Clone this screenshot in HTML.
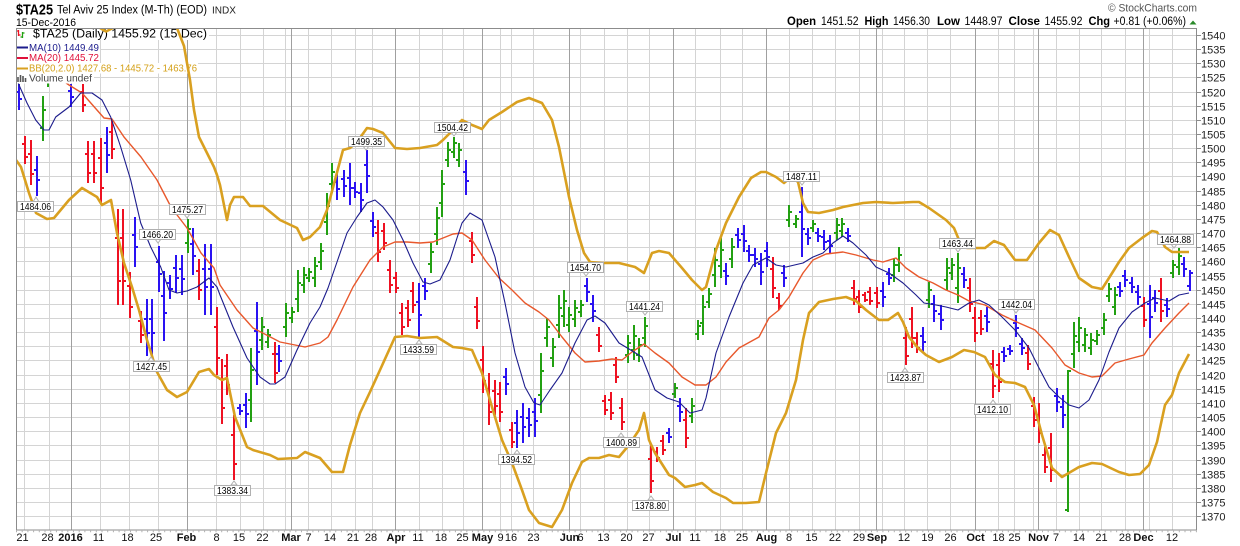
<!DOCTYPE html>
<html><head><meta charset="utf-8"><style>
html,body{margin:0;padding:0;background:#fff;}
svg{display:block;font-family:"Liberation Sans",Arial,sans-serif;}
</style></head><body>
<svg width="1240" height="546" viewBox="0 0 1240 546" xmlns="http://www.w3.org/2000/svg">
<defs><clipPath id="pc"><rect x="16" y="28" width="1181" height="502"/></clipPath></defs>
<rect width="1240" height="546" fill="#fff"/>
<!-- header -->
<text x="16" y="14.5" font-size="15" font-weight="bold" textLength="37" lengthAdjust="spacingAndGlyphs">$TA25</text>
<text x="57" y="13.5" font-size="11.5" textLength="150" lengthAdjust="spacingAndGlyphs">Tel Aviv 25 Index (M-Th) (EOD)</text>
<text x="212" y="13.5" font-size="10" textLength="24" lengthAdjust="spacingAndGlyphs" fill="#222">INDX</text>
<text x="16" y="26" font-size="11" textLength="60" lengthAdjust="spacingAndGlyphs">15-Dec-2016</text>
<text x="1108" y="11.5" font-size="11" textLength="89" lengthAdjust="spacingAndGlyphs" fill="#555">© StockCharts.com</text>
<g font-size="11.5">
<text x="787" y="25" font-weight="bold" textLength="29" lengthAdjust="spacingAndGlyphs">Open</text>
<text x="821" y="25" textLength="37.5" lengthAdjust="spacingAndGlyphs">1451.52</text>
<text x="864.5" y="25" font-weight="bold" textLength="24" lengthAdjust="spacingAndGlyphs">High</text>
<text x="893" y="25" textLength="37" lengthAdjust="spacingAndGlyphs">1456.30</text>
<text x="937" y="25" font-weight="bold" textLength="23" lengthAdjust="spacingAndGlyphs">Low</text>
<text x="964.5" y="25" textLength="38" lengthAdjust="spacingAndGlyphs">1448.97</text>
<text x="1008.5" y="25" font-weight="bold" textLength="31.5" lengthAdjust="spacingAndGlyphs">Close</text>
<text x="1044.5" y="25" textLength="38" lengthAdjust="spacingAndGlyphs">1455.92</text>
<text x="1088.5" y="25" font-weight="bold" textLength="21.5" lengthAdjust="spacingAndGlyphs">Chg</text>
<text x="1113.5" y="25" textLength="72.5" lengthAdjust="spacingAndGlyphs">+0.81 (+0.06%)</text>
</g>
<polygon points="1189.5,24.5 1196.5,24.5 1193,20.5" fill="#2a8a2a"/>

<!-- grid -->
<path d="M16 35.5H1197M16 49.5H1197M16 63.5H1197M16 77.5H1197M16 92.5H1197M16 106.5H1197M16 120.5H1197M16 134.5H1197M16 148.5H1197M16 162.5H1197M16 176.5H1197M16 191.5H1197M16 205.5H1197M16 219.5H1197M16 233.5H1197M16 247.5H1197M16 261.5H1197M16 276.5H1197M16 290.5H1197M16 304.5H1197M16 318.5H1197M16 332.5H1197M16 346.5H1197M16 360.5H1197M16 375.5H1197M16 389.5H1197M16 403.5H1197M16 417.5H1197M16 431.5H1197M16 445.5H1197M16 460.5H1197M16 474.5H1197M16 488.5H1197M16 502.5H1197M16 516.5H1197" stroke="#d4d4d4" stroke-width="1" fill="none"/>
<path d="M24.5 28V530M49.5 28V530M100.5 28V530M129.5 28V530M158.5 28V530M216.5 28V530M240.5 28V530M263.5 28V530M285.5 28V530M308.5 28V530M331.5 28V530M355.5 28V530M372.5 28V530M419.5 28V530M442.5 28V530M463.5 28V530M500.5 28V530M511.5 28V530M533.5 28V530M580.5 28V530M604.5 28V530M627.5 28V530M649.5 28V530M695.5 28V530M720.5 28V530M742.5 28V530M789.5 28V530M812.5 28V530M835.5 28V530M859.5 28V530M882.5 28V530M904.5 28V530M927.5 28V530M950.5 28V530M998.5 28V530M1014.5 28V530M1033.5 28V530M1056.5 28V530M1079.5 28V530M1101.5 28V530M1125.5 28V530M1149.5 28V530M1172.5 28V530" stroke="#d4d4d4" stroke-width="1" fill="none"/>
<path d="M71.5 28V530M187.5 28V530M291.5 28V530M395.5 28V530M482.5 28V530M569.5 28V530M673.5 28V530M766.5 28V530M876.5 28V530M975.5 28V530M1038.5 28V530M1143.5 28V530" stroke="#a0a0a0" stroke-width="1" fill="none"/>

<g clip-path="url(#pc)">
<!-- bars -->
<path fill="none" stroke="#22a012" stroke-width="2" d="M43 96V141M40 128h3M43 110h3M48 83V87M188 219V253M185 243h3M188 229h3M251 348V422M248 400h3M251 370h3M262 317V350M259 340h3M262 327h3M268 329V348M265 342h3M268 335h3M286 303V337M283 327h3M286 313h3M292 307V323M289 318h3M292 312h3M298 270V312M295 299h3M298 283h3M304 267V293M301 285h3M304 275h3M309 268V282M306 278h3M309 272h3M315 257V287M312 278h3M315 266h3M321 243V270M318 262h3M321 251h3M327 193V235M324 222h3M327 206h3M332 163V193M329 184h3M332 172h3M431 243V273M428 264h3M431 252h3M437 207V245M434 234h3M437 218h3M442 170V217M439 203h3M442 184h3M448 142V167M445 160h3M448 150h3M454 137V158M451 152h3M454 143h3M459 143V167M456 160h3M459 150h3M541 353V413M538 395h3M541 371h3M547 318V347M544 338h3M547 327h3M553 338V367M550 358h3M553 347h3M559 295V338M556 325h3M559 308h3M564 290V327M561 316h3M564 301h3M569 307V332M566 325h3M569 315h3M575 300V327M572 319h3M575 308h3M581 300V317M578 312h3M581 305h3M628 335V363M625 355h3M628 343h3M634 325V360M631 350h3M634 336h3M639 338V362M636 355h3M639 345h3M645 317V347M642 338h3M645 326h3M675 383V398M672 394h3M675 388h3M692 398V423M689 416h3M692 406h3M698 320V340M695 334h3M698 326h3M703 295V335M700 323h3M703 307h3M709 288V308M706 302h3M709 294h3M715 248V287M712 275h3M715 260h3M721 238V278M718 266h3M721 250h3M732 238V268M729 259h3M732 247h3M789 205V227M786 220h3M789 212h3M796 215V228M793 224h3M796 219h3M813 220V232M810 228h3M813 224h3M837 218V240M834 233h3M837 225h3M842 218V237M839 231h3M842 224h3M894 258V282M891 275h3M894 265h3M899 247V272M896 265h3M899 255h3M929 282V308M926 300h3M929 290h3M947 258V290M944 280h3M947 268h3M952 258V280M949 273h3M952 265h3M958 253V303M955 288h3M958 268h3M1068 370V512M1065 510h3M1068 371h3M1074 322V368M1071 354h3M1074 336h3M1079 317V352M1076 342h3M1079 328h3M1085 328V352M1082 345h3M1085 335h3M1091 333V355M1088 348h3M1091 340h3M1097 330V345M1094 341h3M1097 335h3M1104 313V335M1101 328h3M1104 320h3M1109 283V302M1106 296h3M1109 289h3M1115 287V315M1112 307h3M1115 295h3M1173 260V278M1170 273h3M1173 265h3M1179 248V275M1176 267h3M1179 256h3"/>
<path fill="none" stroke="#ee1122" stroke-width="2" d="M25 136V164M22 144h3M25 157h3M31 140V185M28 154h3M31 174h3M83 84V112M80 92h3M83 105h3M88 141V183M85 154h3M88 173h3M94 141V183M91 154h3M94 173h3M101 138V204M98 158h3M101 188h3M112 120V159M109 132h3M112 149h3M118 209V305M115 238h3M118 281h3M123 209V305M120 238h3M123 281h3M130 272V318M127 286h3M130 307h3M141 311V343M138 321h3M141 335h3M199 259V300M196 271h3M199 290h3M217 307V375M214 327h3M217 358h3M222 359V424M219 379h3M222 408h3M227 354V395M224 366h3M227 385h3M234 415V480M231 435h3M234 464h3M275 342V383M272 354h3M275 373h3M378 220V262M375 233h3M378 252h3M384 223V250M381 231h3M384 243h3M390 260V293M387 270h3M390 285h3M396 272V293M393 278h3M396 288h3M402 303V335M399 313h3M402 327h3M408 300V327M405 308h3M408 320h3M413 282V313M410 291h3M413 305h3M472 232V263M469 241h3M472 255h3M477 297V329M474 307h3M477 321h3M483 346V393M480 360h3M483 381h3M489 373V425M486 389h3M489 412h3M495 380V415M492 391h3M495 406h3M500 382V422M497 394h3M500 412h3M512 422V448M509 430h3M512 442h3M599 327V352M596 335h3M599 346h3M605 395V415M602 401h3M605 410h3M611 392V420M608 400h3M611 413h3M616 357V383M613 365h3M616 377h3M622 398V430M619 408h3M622 422h3M651 445V493M648 459h3M651 481h3M657 447V462M654 452h3M657 458h3M663 435V455M660 441h3M663 450h3M686 408V448M683 420h3M686 438h3M773 257V298M770 269h3M773 288h3M779 293V310M776 298h3M779 306h3M854 280V305M851 288h3M854 299h3M859 290V313M856 297h3M859 307h3M865 292V302M862 295h3M865 300h3M870 287V305M867 292h3M870 301h3M877 287V308M874 293h3M877 303h3M906 327V365M903 338h3M906 356h3M912 307V348M909 319h3M912 338h3M917 332V353M914 338h3M917 348h3M970 278V312M967 288h3M970 304h3M975 307V342M972 318h3M975 333h3M981 310V335M978 318h3M981 329h3M993 350V398M990 364h3M993 386h3M999 353V392M996 365h3M999 382h3M1028 345V370M1025 353h3M1028 364h3M1034 397V427M1031 406h3M1034 420h3M1039 403V443M1036 415h3M1039 433h3M1045 447V473M1042 455h3M1045 467h3M1051 433V482M1048 448h3M1051 470h3M1144 297V327M1141 306h3M1144 320h3M1161 278V322M1158 291h3M1161 311h3"/>
<path fill="none" stroke="#2a12f2" stroke-width="2" d="M19 84V110M16 92h3M19 99h3M37 156V196M34 170h3M37 180h3M71 84V107M68 91h3M71 97h3M107 127V173M104 143h3M107 155h3M135 217V267M132 235h3M135 247h3M147 299V356M144 319h3M147 333h3M152 299V356M149 319h3M152 333h3M159 246V292M156 262h3M159 274h3M164 271V341M161 296h3M164 313h3M170 275V299M167 283h3M170 289h3M176 255V293M173 268h3M176 278h3M182 255V295M179 269h3M182 279h3M193 228V275M190 244h3M193 256h3M205 244V315M202 269h3M205 287h3M211 244V315M208 269h3M211 287h3M240 404V415M237 408h3M240 411h3M246 393V428M243 405h3M246 414h3M257 302V385M254 331h3M257 352h3M279 345V372M276 354h3M279 361h3M337 173V200M334 182h3M337 189h3M344 170V197M341 179h3M344 186h3M350 163V205M347 178h3M350 188h3M355 182V198M352 188h3M355 192h3M361 183V212M358 193h3M361 200h3M367 150V193M364 165h3M367 176h3M373 212V237M370 221h3M373 227h3M419 283V337M416 302h3M419 315h3M425 278V300M422 286h3M425 291h3M466 160V195M463 172h3M466 181h3M506 368V395M503 377h3M506 384h3M517 410V448M514 423h3M517 433h3M523 403V443M520 417h3M523 427h3M529 408V437M526 418h3M529 425h3M535 398V437M532 412h3M535 421h3M587 278V302M584 286h3M587 292h3M593 295V322M590 304h3M593 311h3M669 428V443M666 433h3M669 437h3M680 398V422M677 406h3M680 412h3M726 263V285M723 271h3M726 276h3M738 228V248M735 235h3M738 240h3M744 225V252M741 234h3M744 241h3M749 245V262M746 251h3M749 255h3M755 248V267M752 255h3M755 259h3M761 253V285M758 264h3M761 272h3M767 242V267M764 251h3M767 257h3M784 265V287M781 273h3M784 278h3M802 187V257M799 212h3M802 229h3M808 228V245M805 234h3M808 238h3M818 228V242M815 233h3M818 236h3M824 230V250M821 237h3M824 242h3M830 235V253M827 241h3M830 246h3M848 228V242M845 233h3M848 236h3M883 282V307M880 291h3M883 297h3M889 268V285M886 274h3M889 278h3M923 327V352M920 336h3M923 342h3M934 295V322M931 304h3M934 311h3M941 305V330M938 314h3M941 320h3M964 267V288M961 274h3M964 280h3M987 307V332M984 316h3M987 322h3M1004 347V362M1001 352h3M1004 356h3M1010 345V355M1007 349h3M1010 351h3M1016 315V337M1013 323h3M1016 328h3M1022 338V355M1019 344h3M1022 348h3M1057 388V412M1054 396h3M1057 402h3M1063 395V428M1060 407h3M1063 415h3M1120 282V297M1117 287h3M1120 291h3M1125 270V287M1122 276h3M1125 280h3M1132 277V293M1129 283h3M1132 287h3M1138 285V305M1135 292h3M1138 297h3M1150 285V338M1147 304h3M1150 317h3M1155 290V312M1152 298h3M1155 303h3M1167 298V317M1164 305h3M1167 309h3M1184 257V277M1181 264h3M1184 269h3M1190 270V291M1187 286h3M1190 273h3"/>

<!-- MA20 (red + BB mid orange) -->
<polyline fill="none" stroke="#e8582c" stroke-width="1.4" stroke-linejoin="round" points="50,72 69,85 82,93 104,118 112,119 124,137 141,157 157,180 171,207 187,228 201,253 214,268 220,285 237,310 253,328 280,342 305,347 320,343 328,337 337,320 353,287 370,260 383,247 395,242 407,242 420,243 433,242 453,234 462,233 472,240 485,260 499,278 512,290 525,303 539,312 549,320 562,337 575,353 585,362 599,361 612,359 622,360 632,352 644,344 655,353 669,363 682,377 695,385 706,385 716,377 726,362 739,348 759,337 769,318 779,310 789,297 803,273 813,260 826,254 843,252 856,255 873,260 883,262 896,258 906,268 919,277 933,283 946,290 958,295 969,301 985,305 1002,315 1019,323 1035,330 1052,348 1065,365 1079,373 1092,377 1102,376 1115,363 1129,359 1144,355 1152,343 1165,328 1179,313 1189,303"/>
<!-- MA10 -->
<polyline fill="none" stroke="#1c1c8c" stroke-width="1.1" stroke-linejoin="round" points="16,78 19,85 27,103 35.7,120 44,130 49,130 55.7,117 69,107 80.7,93 92,93 102,100 110.7,117 120.7,147 130.7,180 140.7,223 150.7,247 160.7,267 169,290 177,293 187,291 197,287 209,278 217,287 220,295 233,327 247,358 260,377 270,384 275,384 285,377 297,350 310,323 320,307 328,288 337,262 347,233 357,217 367,203 375,200 383,207 393,220 403,240 413,263 423,282 430,284 440,280 450,260 457,238 462,223 470,213 482,220 495,257 505,303 515,353 525,387 534,403 540,405 550,390 562,373 575,343 587,320 595,316 605,323 619,343 629,349 642,357 655,390 667,398 679,402 690,413 702,410 706,398 716,353 729,317 743,283 753,265 766,258 776,265 786,267 803,263 813,257 823,253 833,243 843,236 853,243 866,255 876,267 889,273 903,283 916,295 924,303 936,305 946,307 958,310 969,303 979,300 989,305 1002,317 1015,330 1029,348 1039,368 1049,387 1059,397 1069,405 1079,408 1089,400 1099,380 1109,352 1119,328 1132,312 1145,303 1155,298 1169,301 1179,295 1189,293"/>
</g>

<!-- legend -->
<rect x="16" y="28" width="193" height="12" fill="#fff"/>
<rect x="16" y="40" width="84" height="23" fill="#fff"/>
<rect x="16" y="63" width="182" height="10.5" fill="#fff"/>
<rect x="16" y="73.5" width="78" height="10" fill="#fff"/>
<path d="M18.5 30V36M16.5 31h2M18.5 35h2" stroke="#ee1122" stroke-width="1.3" fill="none"/>
<path d="M22.5 32V38M20.5 37h2M22.5 33h2" stroke="#22a012" stroke-width="1.3" fill="none"/>
<text x="33" y="37.5" font-size="11.5" textLength="174" lengthAdjust="spacingAndGlyphs">$TA25 (Daily) 1455.92 (15 Dec)</text>
<path d="M17 47.5H28" stroke="#1c1c8c" stroke-width="2"/>
<text x="29" y="51" font-size="10" fill="#1c1c8c" textLength="70" lengthAdjust="spacingAndGlyphs">MA(10) 1449.49</text>
<path d="M17 58H28" stroke="#e0103a" stroke-width="2"/>
<text x="29" y="61" font-size="10" fill="#e0103a" textLength="70" lengthAdjust="spacingAndGlyphs">MA(20) 1445.72</text>
<path d="M17 68.5H28" stroke="#d9a020" stroke-width="2"/>
<text x="29" y="71.5" font-size="10" fill="#d4a017" textLength="168" lengthAdjust="spacingAndGlyphs">BB(20,2.0) 1427.68 - 1445.72 - 1463.76</text>
<path d="M18 82V77M20.5 82V75M23 82V76M25.5 82V78" stroke="#555" stroke-width="1.6"/>
<text x="29" y="81.5" font-size="10" fill="#444" textLength="63" lengthAdjust="spacingAndGlyphs">Volume undef</text>

<!-- Bollinger bands -->
<g clip-path="url(#pc)" fill="none" stroke="#d9a020" stroke-width="2.6" stroke-linejoin="round">
<polyline points="92,18 100,28 106,31.5 113,28 120,18"/>
<polyline points="172,15 177,28 184,46 190,80 194,110 199,137 214,167 217,175 220,185 224,205 227,220 230,205 234,197 243,197 250,206 263,206 280,220 297,228 303,240 310,237 320,227 327,210 335,180 343,150 350,148 357,142 367,128 373,129 383,133 395,148 407,149 420,148 437,145 443,140 453,130 462,120 472,125 482,129 489,120 502,112 517,102 529,98 542,103 552,120 559,147 569,197 577,230 584,253 590,262 602,263 619,263 635,267 644,273 652,253 659,251 669,253 682,268 692,280 702,290 706,287 716,250 726,223 739,197 751,178 761,172 766,172 776,177 784,183 791,177 798,182 803,203 808,212 819,213 833,210 843,207 853,205 863,203 876,202 893,203 913,202 919,202 929,208 946,220 954,228 959,240 967,248 985,248 994,241 1004,245 1015,260 1027,260 1039,243 1050,230 1059,235 1069,257 1079,278 1092,287 1102,289 1109,278 1119,262 1129,248 1142,238 1152,231 1157,232 1165,247 1172,252 1189,252"/>
<polyline points="16,160 21,167 29,193 36,213 47,219 54,218 69,200 82,188 97,197 102,205 111,200 117,233 124,263 132,287 139,310 147,340 157,372 167,390 177,397 187,392 199,372 209,369 214,375 222,380 227,378 235,417 247,447 253,450 270,455 278,459 297,458 305,452 320,458 332,472 343,472 350,445 360,413 370,392 380,370 395,337 407,336 420,338 437,337 453,347 462,348 472,350 482,373 492,407 502,440 512,463 522,490 529,510 539,523 552,527 562,510 572,483 582,462 589,458 599,458 609,455 619,457 629,445 639,430 644,413 649,440 655,453 669,475 675,478 685,487 695,485 702,483 713,492 726,498 733,503 746,503 759,502 766,473 776,433 786,413 796,380 803,340 809,313 819,302 833,299 846,297 856,301 866,310 879,320 888,320 898,313 903,322 909,337 918,348 926,355 939,362 952,357 964,350 974,352 985,357 995,375 1005,382 1015,383 1025,387 1034,405 1042,435 1052,468 1062,477 1079,467 1092,463 1102,464 1119,472 1129,475 1140,474 1149,465 1157,442 1165,405 1172,395 1179,373 1189,354"/>
</g>

<!-- callouts -->
<g font-size="10.5" text-anchor="middle" stroke-width="1">
<g><polygon points="33,202 36,197 39,202" fill="#fff" stroke="#b0b0b0"/><rect x="17.5" y="201.5" width="36" height="10" fill="#fff" stroke="#b0b0b0"/><text x="35.5" y="210" textLength="31" lengthAdjust="spacingAndGlyphs">1484.06</text></g>
<g><polygon points="184,214 187,218 190,214" fill="#fff" stroke="#b0b0b0"/><rect x="169.5" y="204.5" width="36" height="10" fill="#fff" stroke="#b0b0b0"/><text x="187.5" y="213" textLength="31" lengthAdjust="spacingAndGlyphs">1475.27</text></g>
<g><polygon points="155,239 158,243 161,239" fill="#fff" stroke="#b0b0b0"/><rect x="139.5" y="229.5" width="36" height="10" fill="#fff" stroke="#b0b0b0"/><text x="157.5" y="238" textLength="31" lengthAdjust="spacingAndGlyphs">1466.20</text></g>
<g><polygon points="148,361 151,357 154,361" fill="#fff" stroke="#b0b0b0"/><rect x="133.5" y="361.5" width="36" height="10" fill="#fff" stroke="#b0b0b0"/><text x="151.5" y="370" textLength="31" lengthAdjust="spacingAndGlyphs">1427.45</text></g>
<g><polygon points="231,485 234,481 237,485" fill="#fff" stroke="#b0b0b0"/><rect x="214.5" y="485.5" width="36" height="10" fill="#fff" stroke="#b0b0b0"/><text x="232.5" y="494" textLength="31" lengthAdjust="spacingAndGlyphs">1383.34</text></g>
<g><polygon points="363,146 366,150 369,146" fill="#fff" stroke="#b0b0b0"/><rect x="348.5" y="136.5" width="36" height="10" fill="#fff" stroke="#b0b0b0"/><text x="366.5" y="145" textLength="31" lengthAdjust="spacingAndGlyphs">1499.35</text></g>
<g><polygon points="416,344 419,340 422,344" fill="#fff" stroke="#b0b0b0"/><rect x="400.5" y="344.5" width="36" height="10" fill="#fff" stroke="#b0b0b0"/><text x="418.5" y="353" textLength="31" lengthAdjust="spacingAndGlyphs">1433.59</text></g>
<g><polygon points="451,132 454,136 457,132" fill="#fff" stroke="#b0b0b0"/><rect x="434.5" y="122.5" width="36" height="10" fill="#fff" stroke="#b0b0b0"/><text x="452.5" y="131" textLength="31" lengthAdjust="spacingAndGlyphs">1504.42</text></g>
<g><polygon points="514,454 517,450 520,454" fill="#fff" stroke="#b0b0b0"/><rect x="498.5" y="454.5" width="36" height="10" fill="#fff" stroke="#b0b0b0"/><text x="516.5" y="463" textLength="31" lengthAdjust="spacingAndGlyphs">1394.52</text></g>
<g><polygon points="583,272 586,276 589,272" fill="#fff" stroke="#b0b0b0"/><rect x="567.5" y="262.5" width="36" height="10" fill="#fff" stroke="#b0b0b0"/><text x="585.5" y="271" textLength="31" lengthAdjust="spacingAndGlyphs">1454.70</text></g>
<g><polygon points="642,311 645,315 648,311" fill="#fff" stroke="#b0b0b0"/><rect x="626.5" y="301.5" width="36" height="10" fill="#fff" stroke="#b0b0b0"/><text x="644.5" y="310" textLength="31" lengthAdjust="spacingAndGlyphs">1441.24</text></g>
<g><polygon points="618,437 621,433 624,437" fill="#fff" stroke="#b0b0b0"/><rect x="603.5" y="437.5" width="36" height="10" fill="#fff" stroke="#b0b0b0"/><text x="621.5" y="446" textLength="31" lengthAdjust="spacingAndGlyphs">1400.89</text></g>
<g><polygon points="648,500 651,496 654,500" fill="#fff" stroke="#b0b0b0"/><rect x="632.5" y="500.5" width="36" height="10" fill="#fff" stroke="#b0b0b0"/><text x="650.5" y="509" textLength="31" lengthAdjust="spacingAndGlyphs">1378.80</text></g>
<g><polygon points="799,181 802,185 805,181" fill="#fff" stroke="#b0b0b0"/><rect x="783.5" y="171.5" width="36" height="10" fill="#fff" stroke="#b0b0b0"/><text x="801.5" y="180" textLength="31" lengthAdjust="spacingAndGlyphs">1487.11</text></g>
<g><polygon points="902,372 905,368 908,372" fill="#fff" stroke="#b0b0b0"/><rect x="887.5" y="372.5" width="36" height="10" fill="#fff" stroke="#b0b0b0"/><text x="905.5" y="381" textLength="31" lengthAdjust="spacingAndGlyphs">1423.87</text></g>
<g><polygon points="955,248 958,252 961,248" fill="#fff" stroke="#b0b0b0"/><rect x="939.5" y="238.5" width="36" height="10" fill="#fff" stroke="#b0b0b0"/><text x="957.5" y="247" textLength="31" lengthAdjust="spacingAndGlyphs">1463.44</text></g>
<g><polygon points="1013,309 1016,313 1019,309" fill="#fff" stroke="#b0b0b0"/><rect x="998.5" y="299.5" width="36" height="10" fill="#fff" stroke="#b0b0b0"/><text x="1016.5" y="308" textLength="31" lengthAdjust="spacingAndGlyphs">1442.04</text></g>
<g><polygon points="990,404 993,400 996,404" fill="#fff" stroke="#b0b0b0"/><rect x="974.5" y="404.5" width="36" height="10" fill="#fff" stroke="#b0b0b0"/><text x="992.5" y="413" textLength="31" lengthAdjust="spacingAndGlyphs">1412.10</text></g>
<g><polygon points="1171,244 1174,248 1177,244" fill="#fff" stroke="#b0b0b0"/><rect x="1157.5" y="234.5" width="36" height="10" fill="#fff" stroke="#b0b0b0"/><text x="1175.5" y="243" textLength="31" lengthAdjust="spacingAndGlyphs">1464.88</text></g>
</g>

<!-- plot border -->
<rect x="16.5" y="28.5" width="1180" height="501.5" fill="none" stroke="#8c8c8c" stroke-width="1"/>
<path d="M16 531.5H1197" stroke="#b0b0b0" stroke-width="1.5" stroke-dasharray="1 4.7"/>

<!-- y axis ticks & labels -->
<path d="M1197 35.5h4M1197 49.5h4M1197 63.5h4M1197 77.5h4M1197 92.5h4M1197 106.5h4M1197 120.5h4M1197 134.5h4M1197 148.5h4M1197 162.5h4M1197 176.5h4M1197 191.5h4M1197 205.5h4M1197 219.5h4M1197 233.5h4M1197 247.5h4M1197 261.5h4M1197 276.5h4M1197 290.5h4M1197 304.5h4M1197 318.5h4M1197 332.5h4M1197 346.5h4M1197 360.5h4M1197 375.5h4M1197 389.5h4M1197 403.5h4M1197 417.5h4M1197 431.5h4M1197 445.5h4M1197 460.5h4M1197 474.5h4M1197 488.5h4M1197 502.5h4M1197 516.5h4" stroke="#8c8c8c" stroke-width="1"/>
<g font-size="11" fill="#222">
<text x="1201" y="39.5">1540</text><text x="1201" y="53.5">1535</text><text x="1201" y="67.5">1530</text><text x="1201" y="81.5">1525</text><text x="1201" y="96.5">1520</text><text x="1201" y="110.5">1515</text><text x="1201" y="124.5">1510</text><text x="1201" y="138.5">1505</text><text x="1201" y="152.5">1500</text><text x="1201" y="166.5">1495</text><text x="1201" y="180.5">1490</text><text x="1201" y="195.5">1485</text><text x="1201" y="209.5">1480</text><text x="1201" y="223.5">1475</text><text x="1201" y="237.5">1470</text><text x="1201" y="251.5">1465</text><text x="1201" y="265.5">1460</text><text x="1201" y="280.5">1455</text><text x="1201" y="294.5">1450</text><text x="1201" y="308.5">1445</text><text x="1201" y="322.5">1440</text><text x="1201" y="336.5">1435</text><text x="1201" y="350.5">1430</text><text x="1201" y="364.5">1425</text><text x="1201" y="379.5">1420</text><text x="1201" y="393.5">1415</text><text x="1201" y="407.5">1410</text><text x="1201" y="421.5">1405</text><text x="1201" y="435.5">1400</text><text x="1201" y="449.5">1395</text><text x="1201" y="464.5">1390</text><text x="1201" y="478.5">1385</text><text x="1201" y="492.5">1380</text><text x="1201" y="506.5">1375</text><text x="1201" y="520.5">1370</text>
</g>

<!-- x axis labels -->
<g font-size="11" fill="#111" text-anchor="middle">
<text x="22.5" y="541">21</text><text x="47.5" y="541">28</text><text x="70.5" y="541" font-weight="bold">2016</text><text x="98.5" y="541">11</text><text x="127.5" y="541">18</text><text x="156" y="541">25</text><text x="186.5" y="541" font-weight="bold">Feb</text><text x="216.5" y="541">8</text><text x="239" y="541">15</text><text x="262.5" y="541">22</text><text x="291" y="541" font-weight="bold">Mar</text><text x="308.5" y="541">7</text><text x="330" y="541">14</text><text x="353" y="541">21</text><text x="371" y="541">28</text><text x="396" y="541" font-weight="bold">Apr</text><text x="418" y="541">11</text><text x="441" y="541">18</text><text x="462.5" y="541">25</text><text x="482.5" y="541" font-weight="bold">May</text><text x="500.5" y="541">9</text><text x="511" y="541">16</text><text x="533.5" y="541">23</text><text x="569.5" y="541" font-weight="bold">Jun</text><text x="580.5" y="541">6</text><text x="603.5" y="541">13</text><text x="626.5" y="541">20</text><text x="648.5" y="541">27</text><text x="673.5" y="541" font-weight="bold">Jul</text><text x="695" y="541">11</text><text x="720" y="541">18</text><text x="742" y="541">25</text><text x="766.5" y="541" font-weight="bold">Aug</text><text x="789" y="541">8</text><text x="811.5" y="541">15</text><text x="835" y="541">22</text><text x="859" y="541">29</text><text x="877" y="541" font-weight="bold">Sep</text><text x="904" y="541">12</text><text x="927.5" y="541">19</text><text x="950.5" y="541">26</text><text x="975.5" y="541" font-weight="bold">Oct</text><text x="998.5" y="541">18</text><text x="1014.5" y="541">25</text><text x="1038.5" y="541" font-weight="bold">Nov</text><text x="1056" y="541">7</text><text x="1079" y="541">14</text><text x="1101.5" y="541">21</text><text x="1125" y="541">28</text><text x="1143.5" y="541" font-weight="bold">Dec</text><text x="1172" y="541">12</text>
</g>
</svg>
</body></html>
